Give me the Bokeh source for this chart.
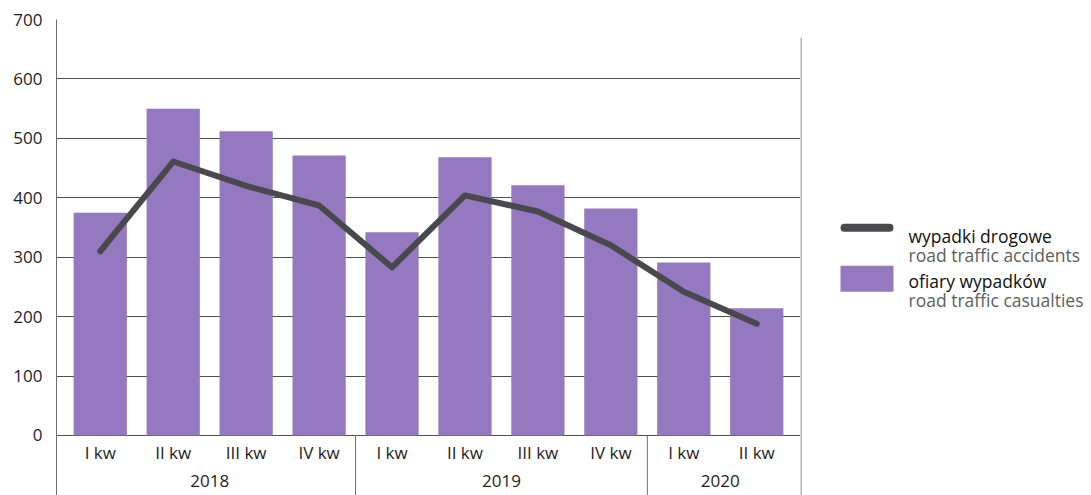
from bokeh.plotting import figure
from bokeh.models import FactorRange, Range1d, FixedTicker, ColumnDataSource
from bokeh.layouts import row
from bokeh.embed import file_html
from bokeh.resources import INLINE
from bokeh.core.properties import value

# ---- data ----
years = ["2018", "2019", "2020"]
quarters_per_year = [
    ["I kw", "II kw", "III kw", "IV kw"],
    ["I kw", "II kw", "III kw", "IV kw"],
    ["I kw", "II kw"],
]
casualties = [375, 550, 512, 471, 342, 468, 421, 382, 291, 214]   # ofiary wypadków
accidents = [310, 461, 420, 387, 283, 404, 377, 320, 242, 188]    # wypadki drogowe
y_ticks = [0, 100, 200, 300, 400, 500, 600, 700]
legend_main = ["wypadki drogowe", "ofiary wypadków"]
legend_sub = ["road traffic accidents", "road traffic casualties"]

factors = [f"{y} {q}" for y, qs in zip(years, quarters_per_year) for q in qs]
quarter_labels = [q for qs in quarters_per_year for q in qs]

# group centres / separators derived from the categories
year_x, sep_x = [], []
idx = 0
for y, qs in zip(years, quarters_per_year):
    n = len(qs)
    if n % 2 == 0:
        year_x.append((factors[idx + n // 2 - 1], 0.5))
    else:
        year_x.append(factors[idx + n // 2])
    idx += n
    if idx < len(factors):
        sep_x.append((factors[idx - 1], 0.5))

BAR = "#9579c0"
LINE = "#48484d"
AXIS = "#6e6e6e"
GRID = "#505050"
FONT = "Open Sans"

p = figure(
    x_range=FactorRange(factors=factors, range_padding=0.02),
    y_range=Range1d(-101, 700),
    frame_width=744, frame_height=476,
    min_border_left=56, min_border_right=0, min_border_top=19, min_border_bottom=0,
    x_axis_location=None,
    output_backend="svg", toolbar_location=None,
)
p.outline_line_color = None
p.xgrid.grid_line_color = None
p.yaxis.ticker = FixedTicker(ticks=y_ticks)
p.ygrid.grid_line_color = GRID
p.ygrid.grid_line_width = 1
p.yaxis.axis_line_color = AXIS
p.yaxis.major_tick_line_color = None
p.yaxis.minor_tick_line_color = None
p.yaxis.major_tick_out = 0
p.yaxis.major_tick_in = 0
p.yaxis.major_label_standoff = 14
p.yaxis.major_label_text_font = FONT
p.yaxis.major_label_text_font_size = "17px"
p.yaxis.major_label_text_color = "#1e1e1e"

src = ColumnDataSource(dict(x=factors, cas=casualties, acc=accidents, q=quarter_labels))
p.vbar(x="x", top="cas", bottom=0, width=0.73, source=src, fill_color=BAR, line_color=None)
p.line(x="x", y="acc", source=src, line_color=LINE, line_width=6,
       line_join="round", line_cap="round")

# group separators below the axis
p.segment(x0=sep_x, y0=[0] * len(sep_x), x1=sep_x, y1=[-200] * len(sep_x),
          line_color=AXIS, line_width=1)

# category labels
p.text(x="x", y=-29, text="q", source=src, text_align="center", text_baseline="middle",
       text_font=value(FONT), text_font_size="17px", text_color="#1e1e1e")
p.text(x=year_x, y=[-77] * len(years), text=years, text_align="center",
       text_baseline="middle", text_font=value(FONT), text_font_size="17px",
       text_color="#1e1e1e")

# ---- legend panel ----
lg = figure(
    x_range=Range1d(800, 1091), y_range=Range1d(495, 0),
    width=291, height=495,
    min_border_left=0, min_border_right=0, min_border_top=0, min_border_bottom=0,
    x_axis_location=None, y_axis_location=None,
    output_backend="svg", toolbar_location=None,
)
lg.outline_line_color = None
lg.grid.visible = False
lg.segment(x0=[800.5], y0=[19], x1=[800.5], y1=[495], line_color=AXIS, line_width=1)
lg.segment(x0=[844], y0=[216.5], x1=[889], y1=[216.5], line_color=LINE, line_width=8,
           line_cap="round")
lg.quad(left=[840], right=[893], top=[256], bottom=[283], fill_color=BAR, line_color=None)
lg.text(x=[908, 908], y=[225, 272], text=legend_main, text_baseline="alphabetic",
        text_font=value(FONT), text_font_size="17.5px", text_color="#111111")
lg.text(x=[908, 908], y=[245, 292], text=legend_sub, text_baseline="alphabetic",
        text_font=value(FONT), text_font_size="17.5px", text_color="#5e5e5e")

layout = row(p, lg)
open("out.html", "w").write(file_html(layout, INLINE))
